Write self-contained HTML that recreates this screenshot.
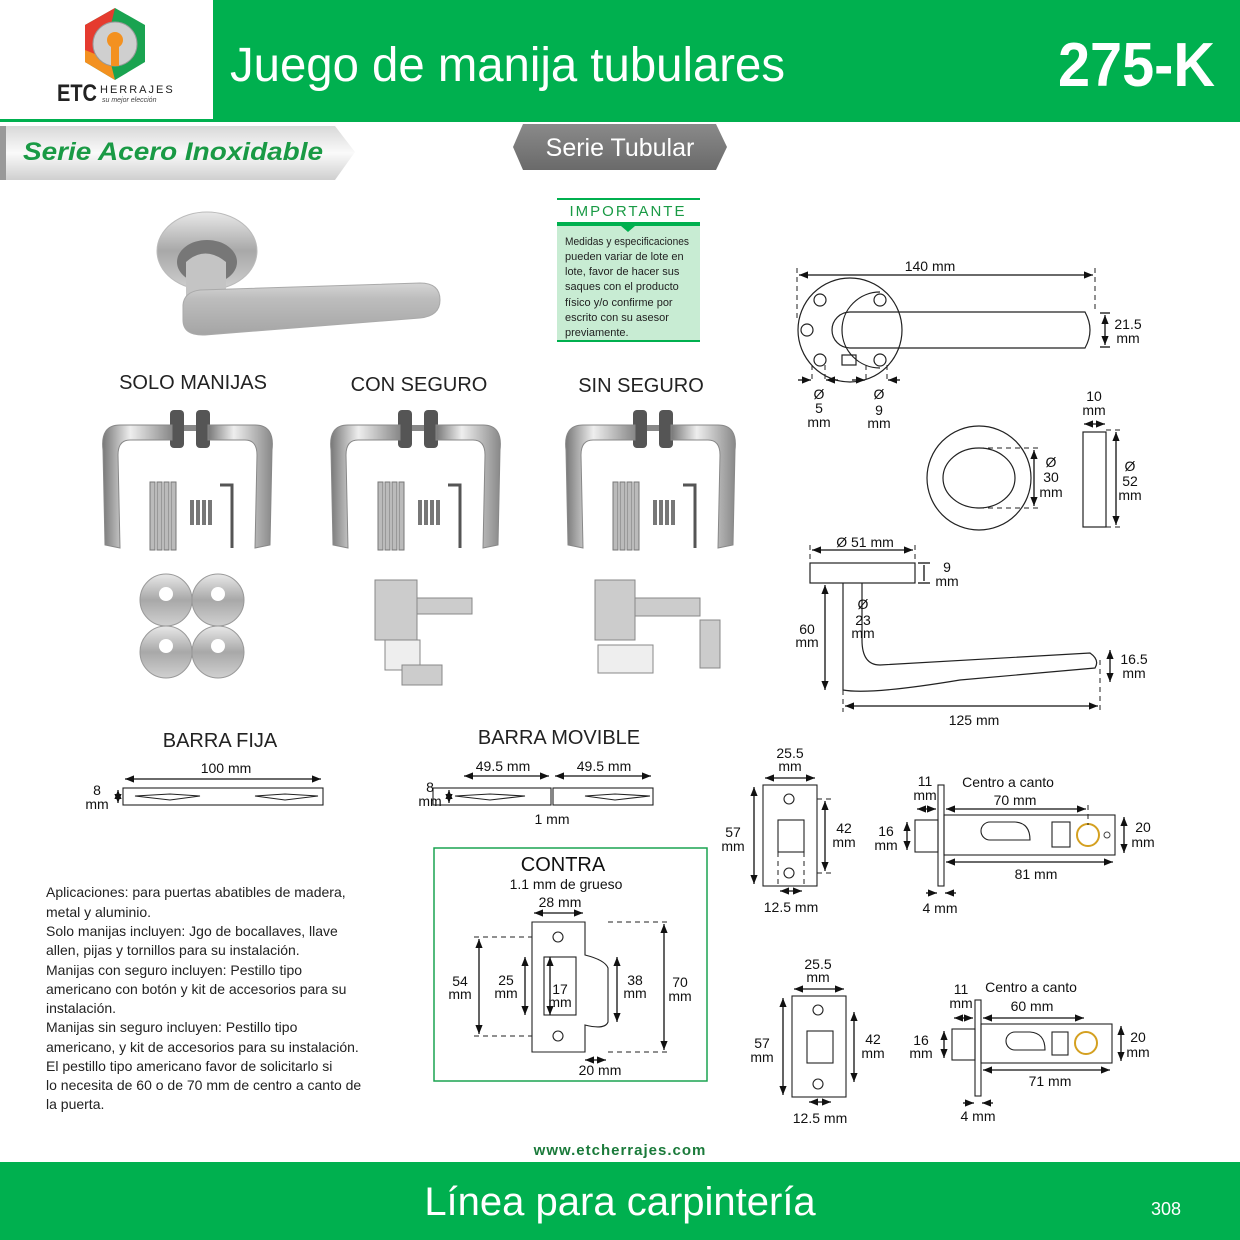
<!DOCTYPE html>
<html><head><meta charset="utf-8"><style>
html,body{margin:0;padding:0;background:#fff}
svg{display:block}
text{font-family:"Liberation Sans","DejaVu Sans",sans-serif}
</style></head><body>
<svg width="1240" height="1240" viewBox="0 0 1240 1240" xmlns="http://www.w3.org/2000/svg">
<defs>
<marker id="a" viewBox="0 0 10 10" refX="10" refY="5" markerWidth="7" markerHeight="7" orient="auto-start-reverse"><path d="M0,1 L10,5 L0,9 z" fill="#111"/></marker>
<linearGradient id="steel" x1="0" y1="0" x2="0" y2="1"><stop offset="0" stop-color="#e8e8e8"/><stop offset=".5" stop-color="#a8a8a8"/><stop offset="1" stop-color="#d0d0d0"/></linearGradient>
<linearGradient id="lever" x1="0" y1="0" x2="0" y2="1"><stop offset="0" stop-color="#d5d5d5"/><stop offset=".3" stop-color="#bdbdbd"/><stop offset="1" stop-color="#a5a5a5"/></linearGradient>
<linearGradient id="steelh" x1="0" y1="0" x2="1" y2="0"><stop offset="0" stop-color="#777"/><stop offset=".4" stop-color="#eee"/><stop offset="1" stop-color="#888"/></linearGradient>
<linearGradient id="ban" x1="0" y1="0" x2="0" y2="1"><stop offset="0" stop-color="#d8d8d8"/><stop offset=".5" stop-color="#fafafa"/><stop offset="1" stop-color="#cfcfcf"/></linearGradient>
<linearGradient id="pill" x1="0" y1="0" x2="0" y2="1"><stop offset="0" stop-color="#8a8a8a"/><stop offset="1" stop-color="#6a6a6a"/></linearGradient>
</defs>

<!-- header -->
<rect x="213" y="0" width="1027" height="120" fill="#00b04f"/>
<rect x="0" y="119" width="1240" height="3" fill="#00b04f"/>
<polygon points="115,8 145,25 145,62 115,80 85,62 85,25" fill="#1aa350"/>
<polygon points="115,8 85,25 85,62 100,70" fill="#e53b2f"/>
<polygon points="85,50 85,62 115,80 110,60" fill="#f39120"/>
<circle cx="115" cy="44" r="22" fill="#cfcfcf" stroke="#999"/>
<circle cx="115" cy="40" r="8" fill="#f39120"/>
<rect x="111" y="44" width="8" height="22" fill="#f39120"/>
<text x="57" y="101" font-size="24" font-weight="bold" fill="#222" textLength="40" lengthAdjust="spacingAndGlyphs">ETC</text>
<text x="100" y="93" font-size="11" fill="#222" letter-spacing="2" font-family="Liberation Serif">HERRAJES</text>
<text x="102" y="102" font-size="7" fill="#444" font-style="italic" font-family="Liberation Serif">su mejor elección</text>
<text x="230" y="81" font-size="48" fill="#fff" textLength="555" lengthAdjust="spacingAndGlyphs">Juego de manija tubulares</text>
<text x="1058" y="86" font-size="62" fill="#fff" font-weight="bold" textLength="157" lengthAdjust="spacingAndGlyphs">275-K</text>

<!-- banners -->
<polygon points="0,126 335,126 355,152 335,180 0,180" fill="url(#ban)"/>
<rect x="0" y="126" width="6" height="54" fill="#999"/>
<text x="23" y="160" font-size="25" font-weight="bold" font-style="italic" fill="#1a9a45" textLength="300" lengthAdjust="spacingAndGlyphs">Serie Acero Inoxidable</text>
<polygon points="523,124 716,124 727,147 716,170 523,170 513,147" fill="url(#pill)"/>
<text x="620" y="156" font-size="25" fill="#fff" text-anchor="middle">Serie Tubular</text>

<!-- importante -->
<rect x="557" y="198" width="143" height="144" fill="#c8ecd3"/>
<rect x="557" y="198" width="143" height="24" fill="#fff"/>
<line x1="557" y1="199" x2="700" y2="199" stroke="#00b04f" stroke-width="2"/>
<polygon points="557,222 700,222 700,226 635,226 628,232 621,226 557,226" fill="#00b04f"/>
<line x1="557" y1="341" x2="700" y2="341" stroke="#00b04f" stroke-width="2"/>
<text x="628" y="216" font-size="15" fill="#1a9a45" text-anchor="middle" letter-spacing="2">IMPORTANTE</text>
<g font-size="11" fill="#222">
<text x="565" y="245" textLength="124" lengthAdjust="spacingAndGlyphs">Medidas y especificaciones</text>
<text x="565" y="260">pueden variar de lote en</text>
<text x="565" y="275">lote, favor de hacer sus</text>
<text x="565" y="290">saques con el producto</text>
<text x="565" y="306">físico y/o confirme por</text>
<text x="565" y="321">escrito con su asesor</text>
<text x="565" y="336">previamente.</text>
</g>

<!-- main handle photo -->
<ellipse cx="207" cy="251" rx="50" ry="39" fill="url(#steel)" stroke="#bbb"/>
<ellipse cx="207" cy="262" rx="30" ry="22" fill="#777"/>
<path d="M186,262 Q205,245 226,262 L226,300 L186,305 Z" fill="#c4c4c4"/>
<path d="M183,305 Q184,292 200,290 L420,283 Q440,283 440,300 Q440,316 420,318 L205,335 Q183,336 183,320 Z" fill="url(#lever)" stroke="#aaa"/>

<!-- kit labels -->
<g font-size="20" fill="#222" text-anchor="middle">
<text x="193" y="389">SOLO MANIJAS</text>
<text x="419" y="391">CON SEGURO</text>
<text x="641" y="392">SIN SEGURO</text>
<text x="220" y="747">BARRA FIJA</text>
<text x="559" y="744">BARRA MOVIBLE</text>
</g>

<!-- kits -->
<g id="kit">
<rect x="170" y="410" width="14" height="38" rx="4" fill="#555"/>
<rect x="196" y="410" width="14" height="38" rx="4" fill="#555"/>
<rect x="184" y="425" width="12" height="6" fill="#888"/>
<path d="M172,425 L120,425 Q100,425 103,450 L105,545 L120,548 L118,455 Q118,440 130,440 L172,440 Z" fill="url(#steelh)" stroke="#888"/>
<path d="M208,425 L255,425 Q275,425 272,450 L270,545 L255,548 L257,455 Q257,440 245,440 L208,440 Z" fill="url(#steelh)" stroke="#888"/>
<g fill="#bbb" stroke="#777"><rect x="150" y="482" width="5" height="68"/><rect x="157" y="482" width="5" height="68"/><rect x="164" y="482" width="5" height="68"/><rect x="171" y="482" width="5" height="68"/></g>
<g fill="#777"><rect x="190" y="500" width="4" height="25"/><rect x="196" y="500" width="4" height="25"/><rect x="202" y="500" width="4" height="25"/><rect x="208" y="500" width="4" height="25"/></g>
<path d="M220,485 L232,485 L232,548" fill="none" stroke="#555" stroke-width="3"/>
</g>
<use href="#kit" transform="translate(228,0)"/>
<use href="#kit" transform="translate(463,0)"/>

<!-- escutcheons -->
<g fill="url(#steel)" stroke="#999">
<circle cx="166" cy="600" r="26"/><circle cx="218" cy="600" r="26"/>
<circle cx="166" cy="652" r="26"/><circle cx="218" cy="652" r="26"/>
</g>
<g fill="#fff"><circle cx="166" cy="594" r="7"/><circle cx="218" cy="594" r="7"/><circle cx="166" cy="646" r="7"/><circle cx="218" cy="646" r="7"/></g>
<!-- latch photos -->
<g fill="#ccc" stroke="#888">
<rect x="375" y="580" width="42" height="60"/><rect x="417" y="598" width="55" height="16"/>
<rect x="385" y="640" width="35" height="30" fill="#eee"/><rect x="402" y="665" width="40" height="20"/>
<rect x="595" y="580" width="40" height="60"/><rect x="635" y="598" width="65" height="18"/>
<rect x="598" y="645" width="55" height="28" fill="#eee"/><rect x="700" y="620" width="20" height="48"/>
</g>

<!-- top-right handle drawing -->
<g stroke="#222" fill="none" stroke-width="1.2">
<circle cx="850" cy="330" r="52"/>
<path d="M880,292 A38,38 0 1,0 880,368"/>
<path d="M850,312 L1085,312 Q1095,330 1085,348 L850,348 A18,18 0 0,1 850,312 Z"/>
<circle cx="820" cy="300" r="6"/><circle cx="880" cy="300" r="6"/><circle cx="807" cy="330" r="6"/><circle cx="820" cy="360" r="6"/><circle cx="880" cy="360" r="6"/>
<rect x="842" y="355" width="14" height="10"/>
</g>
<g stroke="#222" stroke-dasharray="5,4" stroke-width="1"><line x1="797" y1="268" x2="797" y2="320"/><line x1="1095" y1="268" x2="1095" y2="312"/><line x1="812" y1="365" x2="812" y2="382"/><line x1="825" y1="365" x2="825" y2="382"/><line x1="866" y1="365" x2="866" y2="382"/><line x1="887" y1="365" x2="887" y2="382"/></g>
<g stroke="#111" stroke-width="1.3" marker-start="url(#a)" marker-end="url(#a)">
<line x1="799" y1="275" x2="1093" y2="275"/>
<line x1="1105" y1="315" x2="1105" y2="345"/>
</g>
<g stroke="#111" stroke-width="1.3">
<line x1="798" y1="380" x2="811" y2="380" marker-end="url(#a)"/><line x1="838" y1="380" x2="826" y2="380" marker-end="url(#a)"/>
<line x1="852" y1="380" x2="865" y2="380" marker-end="url(#a)"/><line x1="900" y1="380" x2="888" y2="380" marker-end="url(#a)"/>
<line x1="1100" y1="313" x2="1110" y2="313"/><line x1="1100" y1="347" x2="1110" y2="347"/>
</g>
<g font-size="14" fill="#111" text-anchor="middle">
<text x="930" y="271">140 mm</text>
<text x="1128" y="329">21.5</text><text x="1128" y="343">mm</text>
<text x="819" y="399">Ø</text><text x="819" y="413">5</text><text x="819" y="427">mm</text>
<text x="879" y="399">Ø</text><text x="879" y="415">9</text><text x="879" y="428">mm</text>
<text x="1094" y="401">10</text><text x="1094" y="415">mm</text>
<text x="1051" y="467">Ø</text><text x="1051" y="482">30</text><text x="1051" y="497">mm</text>
<text x="1130" y="471">Ø</text><text x="1130" y="486">52</text><text x="1130" y="500">mm</text>
</g>
<!-- rose -->
<g stroke="#222" fill="none" stroke-width="1.2">
<circle cx="979" cy="478" r="52"/>
<ellipse cx="979" cy="478" rx="36" ry="30"/>
<rect x="1083" y="432" width="23" height="95"/>
</g>
<g stroke="#222" stroke-dasharray="5,4"><line x1="979" y1="448" x2="1040" y2="448"/><line x1="979" y1="508" x2="1040" y2="508"/><line x1="1106" y1="430" x2="1122" y2="430"/><line x1="1106" y1="527" x2="1122" y2="527"/></g>
<g stroke="#111" stroke-width="1.3" marker-start="url(#a)" marker-end="url(#a)">
<line x1="1034" y1="450" x2="1034" y2="506"/><line x1="1116" y1="432" x2="1116" y2="525"/><line x1="1084" y1="424" x2="1105" y2="424"/>
</g>
<!-- side handle -->
<g stroke="#222" fill="none" stroke-width="1.2">
<rect x="810" y="563" width="105" height="20"/>
<path d="M843,583 L843,690 Q870,695 960,680 L1095,668 Q1100,660 1090,653 L880,665 Q862,665 862,640 L862,583"/>
</g>
<g stroke="#222" stroke-dasharray="5,4"><line x1="810" y1="545" x2="810" y2="563"/><line x1="915" y1="545" x2="915" y2="563"/><line x1="843" y1="690" x2="843" y2="712"/><line x1="1100" y1="660" x2="1100" y2="712"/><line x1="862" y1="590" x2="862" y2="640"/></g>
<g stroke="#111" stroke-width="1.3" marker-start="url(#a)" marker-end="url(#a)">
<line x1="812" y1="550" x2="913" y2="550"/><line x1="825" y1="585" x2="825" y2="690"/><line x1="845" y1="706" x2="1098" y2="706"/><line x1="1110" y1="650" x2="1110" y2="682"/>
</g>
<g stroke="#111" stroke-width="1.3"><line x1="924" y1="565" x2="924" y2="581"/><line x1="918" y1="563" x2="930" y2="563"/><line x1="918" y1="583" x2="930" y2="583"/></g>
<g font-size="14" fill="#111" text-anchor="middle">
<text x="865" y="547">Ø 51 mm</text><text x="947" y="572">9</text><text x="947" y="586">mm</text>
<text x="863" y="609">Ø</text><text x="863" y="625">23</text><text x="863" y="638">mm</text>
<text x="807" y="634">60</text><text x="807" y="647">mm</text>
<text x="1134" y="664">16.5</text><text x="1134" y="678">mm</text>
<text x="974" y="725">125 mm</text>
</g>

<!-- barra fija -->
<g stroke="#222" fill="none" stroke-width="1.1">
<rect x="123" y="788" width="200" height="17"/>
<path d="M135,796 L170,794 L200,796 L170,800 Z"/><path d="M255,796 L285,794 L318,796 L285,800 Z"/>
<rect x="433" y="788" width="118" height="17"/><rect x="553" y="788" width="100" height="17"/>
<path d="M455,796 L490,794 L525,796 L490,800 Z"/><path d="M585,796 L615,794 L650,796 L615,800 Z"/>
</g>
<g stroke="#111" stroke-width="1.3" marker-start="url(#a)" marker-end="url(#a)">
<line x1="125" y1="779" x2="321" y2="779"/><line x1="118" y1="790" x2="118" y2="803"/>
<line x1="464" y1="776" x2="549" y2="776"/><line x1="555" y1="776" x2="651" y2="776"/><line x1="449" y1="790" x2="449" y2="803"/>
</g>
<g font-size="14" fill="#111" text-anchor="middle">
<text x="226" y="773">100 mm</text><text x="97" y="795">8</text><text x="97" y="809">mm</text>
<text x="503" y="771">49.5 mm</text><text x="604" y="771">49.5 mm</text>
<text x="430" y="792">8</text><text x="430" y="806">mm</text><text x="552" y="824">1 mm</text>
</g>

<!-- contra -->
<rect x="434" y="848" width="273" height="233" fill="none" stroke="#1aa350" stroke-width="1.5"/>
<text x="563" y="871" font-size="20" fill="#111" text-anchor="middle">CONTRA</text>
<text x="566" y="889" font-size="14" fill="#111" text-anchor="middle">1.1 mm de grueso</text>
<text x="560" y="907" font-size="14" fill="#111" text-anchor="middle">28 mm</text>
<g stroke="#222" fill="none" stroke-width="1.1">
<path d="M532,922 L585,922 L585,955 Q605,960 608,968 L608,1022 Q605,1030 585,1025 L585,1052 L532,1052 Z"/>
<rect x="544" y="957" width="32" height="58"/><circle cx="558" cy="937" r="5"/><circle cx="558" cy="1036" r="5"/>
</g>
<g stroke="#222" stroke-dasharray="5,4"><line x1="474" y1="937" x2="532" y2="937"/><line x1="474" y1="1036" x2="532" y2="1036"/><line x1="608" y1="922" x2="670" y2="922"/><line x1="608" y1="1052" x2="670" y2="1052"/></g>
<g stroke="#111" stroke-width="1.3" marker-start="url(#a)" marker-end="url(#a)">
<line x1="534" y1="913" x2="583" y2="913"/><line x1="479" y1="939" x2="479" y2="1034"/><line x1="525" y1="957" x2="525" y2="1015"/>
<line x1="550" y1="957" x2="550" y2="1015"/><line x1="617" y1="957" x2="617" y2="1022"/><line x1="664" y1="924" x2="664" y2="1050"/><line x1="585" y1="1060" x2="606" y2="1060"/>
</g>
<g font-size="14" fill="#111" text-anchor="middle">
<text x="460" y="986">54</text><text x="460" y="999">mm</text><text x="506" y="985">25</text><text x="506" y="998">mm</text>
<text x="560" y="994">17</text><text x="560" y="1007">mm</text><text x="635" y="985">38</text><text x="635" y="998">mm</text>
<text x="680" y="987">70</text><text x="680" y="1001">mm</text><text x="600" y="1075">20 mm</text>
</g>

<!-- strike + latch set 1 -->
<g id="set">
<g stroke="#222" fill="none" stroke-width="1.1">
<rect x="763" y="785" width="54" height="101"/><rect x="778" y="820" width="26" height="32"/>
<circle cx="789" cy="799" r="5"/><circle cx="789" cy="873" r="5"/>
<rect x="938" y="785" width="6" height="101"/><rect x="944" y="815" width="171" height="40"/><rect x="915" y="820" width="23" height="32"/>
<path d="M990,840 L1030,840 Q1030,823 1015,822 L990,822 A9,9 0 0,0 990,840 Z"/>
<rect x="1052" y="822" width="18" height="25"/>
</g>
<circle cx="1088" cy="835" r="11" fill="none" stroke="#d4a020" stroke-width="2"/>
<circle cx="1107" cy="835" r="3" fill="none" stroke="#444"/>
<g stroke="#222" stroke-dasharray="5,4"><line x1="817" y1="799" x2="835" y2="799"/><line x1="817" y1="873" x2="835" y2="873"/><line x1="778" y1="852" x2="778" y2="886"/><line x1="804" y1="852" x2="804" y2="886"/><line x1="1088" y1="805" x2="1088" y2="825"/></g>
<g stroke="#111" stroke-width="1.3" marker-start="url(#a)" marker-end="url(#a)">
<line x1="765" y1="778" x2="815" y2="778"/><line x1="754" y1="787" x2="754" y2="884"/><line x1="825" y1="801" x2="825" y2="871"/><line x1="780" y1="891" x2="802" y2="891"/>
<line x1="917" y1="809" x2="936" y2="809"/><line x1="946" y1="809" x2="1086" y2="809"/><line x1="907" y1="822" x2="907" y2="850"/><line x1="1124" y1="817" x2="1124" y2="853"/><line x1="946" y1="862" x2="1113" y2="862"/>
</g>
<g stroke="#111" stroke-width="1.3"><line x1="926" y1="893" x2="937" y2="893" marker-end="url(#a)"/><line x1="956" y1="893" x2="945" y2="893" marker-end="url(#a)"/></g>
</g>
<g font-size="14" fill="#111" text-anchor="middle">
<text x="790" y="758">25.5</text><text x="790" y="771">mm</text><text x="733" y="837">57</text><text x="733" y="851">mm</text>
<text x="844" y="833">42</text><text x="844" y="847">mm</text><text x="791" y="912">12.5 mm</text>
<text x="925" y="786">11</text><text x="925" y="800">mm</text><text x="1008" y="787">Centro a canto</text><text x="1015" y="805">70 mm</text>
<text x="886" y="836">16</text><text x="886" y="850">mm</text><text x="1143" y="832">20</text><text x="1143" y="847">mm</text>
<text x="1036" y="879">81 mm</text><text x="940" y="913">4 mm</text>
</g>
<!-- set 2 -->
<g transform="translate(29,211)">
<g stroke="#222" fill="none" stroke-width="1.1">
<rect x="763" y="785" width="54" height="101"/><rect x="778" y="820" width="26" height="32"/>
<circle cx="789" cy="799" r="5"/><circle cx="789" cy="873" r="5"/>
</g>
<g stroke="#111" stroke-width="1.3" marker-start="url(#a)" marker-end="url(#a)">
<line x1="765" y1="778" x2="815" y2="778"/><line x1="754" y1="787" x2="754" y2="884"/><line x1="825" y1="801" x2="825" y2="871"/><line x1="780" y1="891" x2="802" y2="891"/>
</g>
</g>
<g stroke="#222" fill="none" stroke-width="1.1">
<rect x="975" y="1000" width="6" height="96"/><rect x="981" y="1024" width="131" height="39"/><rect x="952" y="1029" width="23" height="31"/>
<path d="M1015,1050 L1045,1050 Q1045,1033 1030,1032 L1015,1032 A9,9 0 0,0 1015,1050 Z"/><rect x="1052" y="1032" width="16" height="23"/>
</g>
<circle cx="1086" cy="1043" r="11" fill="none" stroke="#d4a020" stroke-width="2"/>
<g stroke="#111" stroke-width="1.3" marker-start="url(#a)" marker-end="url(#a)">
<line x1="954" y1="1018" x2="973" y2="1018"/><line x1="983" y1="1018" x2="1084" y2="1018"/><line x1="944" y1="1031" x2="944" y2="1058"/><line x1="1121" y1="1026" x2="1121" y2="1061"/><line x1="983" y1="1070" x2="1110" y2="1070"/>
</g>
<g stroke="#111" stroke-width="1.3"><line x1="963" y1="1103" x2="974" y2="1103" marker-end="url(#a)"/><line x1="993" y1="1103" x2="982" y2="1103" marker-end="url(#a)"/></g>
<g font-size="14" fill="#111" text-anchor="middle">
<text x="818" y="969">25.5</text><text x="818" y="982">mm</text><text x="762" y="1048">57</text><text x="762" y="1062">mm</text>
<text x="873" y="1044">42</text><text x="873" y="1058">mm</text><text x="820" y="1123">12.5 mm</text>
<text x="961" y="994">11</text><text x="961" y="1008">mm</text><text x="1031" y="992">Centro a canto</text><text x="1032" y="1011">60 mm</text>
<text x="921" y="1045">16</text><text x="921" y="1058">mm</text><text x="1138" y="1042">20</text><text x="1138" y="1057">mm</text>
<text x="1050" y="1086">71 mm</text><text x="978" y="1121">4 mm</text>
</g>

<!-- description -->
<g font-size="14" fill="#222">
<text x="46" y="897">Aplicaciones: para puertas abatibles de madera,</text>
<text x="46" y="917">metal y aluminio.</text>
<text x="46" y="936">Solo manijas incluyen: Jgo de bocallaves, llave</text>
<text x="46" y="955">allen, pijas y tornillos para su instalación.</text>
<text x="46" y="975">Manijas con seguro incluyen: Pestillo tipo</text>
<text x="46" y="994">americano con botón y kit de accesorios para su</text>
<text x="46" y="1013">instalación.</text>
<text x="46" y="1032">Manijas sin seguro incluyen: Pestillo tipo</text>
<text x="46" y="1052">americano, y kit de accesorios para su instalación.</text>
<text x="46" y="1071">El pestillo tipo americano favor de solicitarlo si</text>
<text x="46" y="1090">lo necesita de 60 o de 70 mm de centro a canto de</text>
<text x="46" y="1109">la puerta.</text>
</g>

<!-- footer -->
<text x="620" y="1155" font-size="15" font-weight="bold" fill="#1a7a3a" text-anchor="middle" letter-spacing="1">www.etcherrajes.com</text>
<rect x="0" y="1162" width="1240" height="78" fill="#00b04f"/>
<text x="620" y="1215" font-size="40" fill="#fff" text-anchor="middle">Línea para carpintería</text>
<text x="1166" y="1215" font-size="18" fill="#fff" text-anchor="middle">308</text>
</svg>
</body></html>
